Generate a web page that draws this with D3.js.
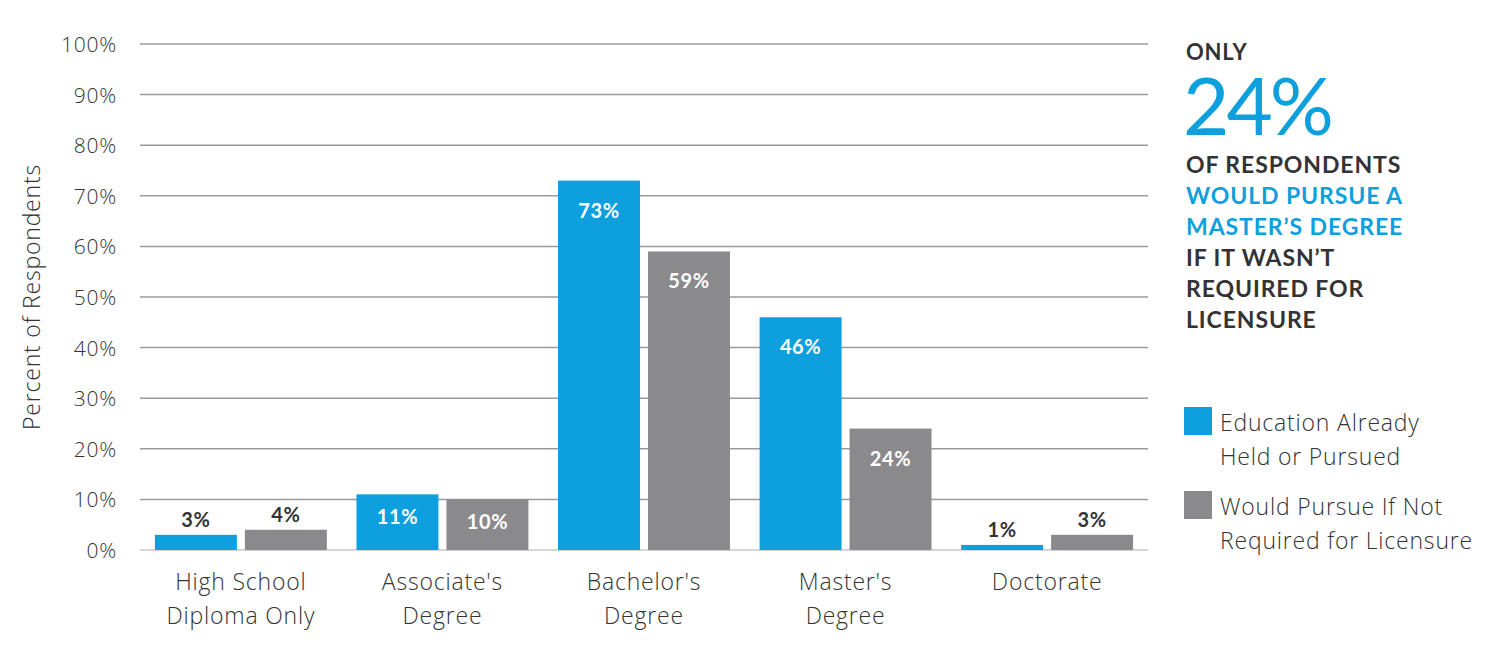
<!DOCTYPE html>
<html lang="en">
<head>
<meta charset="UTF-8">
<title>Education Chart</title>
<style>
    body { margin: 0; padding: 0; background: #fff; font-family: Lato, "Open Sans", sans-serif; }
    svg { display: block; }
    .light { font-family: "Open Sans", Lato, sans-serif; font-weight: 300; }
</style>
<script src="https://d3js.org/d3.v7.min.js"></script>
</head>
<body>
<svg id="chart" width="1500" height="646"></svg>
<script>
    // data
    const categories = [
        ['High School', 'Diploma Only'],
        ["Associate's", 'Degree'],
        ["Bachelor's", 'Degree'],
        ["Master's", 'Degree'],
        ['Doctorate']
    ];
    const seriesNames = ['Education Already Held or Pursued', 'Would Pursue If Not Required for Licensure'];
    const heldValues = [3, 11, 73, 46, 1];
    const wouldValues = [4, 10, 59, 24, 3];
    const yTicks = [0, 10, 20, 30, 40, 50, 60, 70, 80, 90, 100];
    const legendLines = [['Education Already', 'Held or Pursued'], ['Would Pursue If Not', 'Required for Licensure']];
    const calloutLines = [
        { text: 'OF RESPONDENTS', blue: false },
        { text: 'WOULD PURSUE A', blue: true },
        { text: 'MASTER\u2019S DEGREE', blue: true },
        { text: 'IF IT WASN\u2019T', blue: false },
        { text: 'REQUIRED FOR', blue: false },
        { text: 'LICENSURE', blue: false }
    ];

    const blue = '#0d9fde';
    const gray = '#8a8a8d';
    const dark = '#333335';
    const colors = [blue, gray];

    const svg = d3.select('#chart');
    const plotLeft = 140, plotRight = 1148, plotTop = 44, plotBottom = 550;

    const catKeys = categories.map((c, i) => i);
    const x0 = d3.scaleBand().domain(catKeys).range([plotLeft, plotRight]).paddingInner(0.147).paddingOuter(0.074);
    const x1 = d3.scaleBand().domain([0, 1]).range([0, x0.bandwidth()]).paddingInner(0.089);
    const y = d3.scaleLinear().domain([0, 100]).range([plotBottom, plotTop]);

    // gridlines
    svg.append('g').selectAll('line').data(yTicks).join('line')
        .attr('x1', plotLeft).attr('x2', plotRight)
        .attr('y1', d => y(d)).attr('y2', d => y(d))
        .attr('stroke', d => d === 0 ? '#c8c8c8' : '#9a9a9a')
        .attr('stroke-width', 1.5);

    // y tick labels
    svg.append('g').selectAll('text').data(yTicks).join('text')
        .attr('class', 'light')
        .attr('x', 117).attr('y', d => y(d) + 8)
        .attr('text-anchor', 'end')
        .attr('font-size', 21).attr('letter-spacing', 0.8).attr('fill', dark)
        .text(d => d + '%');

    // y axis title
    svg.append('text')
        .attr('class', 'light')
        .attr('transform', 'translate(40,297) rotate(-90)')
        .attr('text-anchor', 'middle')
        .attr('font-size', 23).attr('letter-spacing', 0.8).attr('fill', dark)
        .text('Percent of Respondents');

    // bars
    const rows = catKeys.map(i => [heldValues[i], wouldValues[i]]);
    const groups = svg.append('g').selectAll('g').data(rows).join('g')
        .attr('transform', (d, i) => `translate(${x0(i)},0)`);

    groups.selectAll('rect').data(d => d).join('rect')
        .attr('x', (d, j) => x1(j))
        .attr('width', x1.bandwidth())
        .attr('y', d => y(d))
        .attr('height', d => y(0) - y(d))
        .attr('fill', (d, j) => colors[j]);

    groups.selectAll('text').data(d => d).join('text')
        .attr('x', (d, j) => x1(j) + x1.bandwidth() / 2)
        .attr('y', d => d >= 15 ? y(d) + 37 : y(d) - 8)
        .attr('text-anchor', 'middle')
        .attr('font-size', 20).attr('font-weight', 700)
        .attr('letter-spacing', 0.6)
        .attr('fill', d => d >= 15 ? '#fff' : dark)
        .text(d => d + '%');

    // Associate's labels sit inside their bars
    groups.filter((d, i) => i === 1).selectAll('text')
        .attr('y', d => y(d) + 30)
        .attr('fill', '#fff');

    // category labels
    const catLabels = svg.append('g').selectAll('text').data(categories).join('text')
        .attr('class', 'light')
        .attr('x', (d, i) => x0(i) + x0.bandwidth() / 2)
        .attr('y', 590)
        .attr('text-anchor', 'middle')
        .attr('font-size', 23).attr('letter-spacing', 0.8).attr('fill', dark);
    catLabels.selectAll('tspan').data(d => d).join('tspan')
        .attr('x', function() { return d3.select(this.parentNode).attr('x'); })
        .attr('dy', (d, k) => k === 0 ? 0 : 34)
        .text(d => d);

    // callout
    const cx = 1186;
    svg.append('text').attr('x', cx).attr('y', 60)
        .attr('font-size', 22).attr('font-weight', 700).attr('fill', dark)
        .attr('letter-spacing', 0.8)
        .text('ONLY');
    svg.append('text').attr('x', cx - 3).attr('y', 135)
        .attr('font-size', 80).attr('font-weight', 400).attr('fill', blue)
        .attr('letter-spacing', -3)
        .text(wouldValues[3] + '%');
    svg.append('g').selectAll('text').data(calloutLines).join('text')
        .attr('x', cx).attr('y', (d, i) => 173 + i * 31)
        .attr('font-size', 23).attr('font-weight', 700)
        .attr('letter-spacing', 0.9)
        .attr('fill', d => d.blue ? blue : dark)
        .text(d => d.text);

    // legend
    const legend = svg.append('g').selectAll('g').data(seriesNames).join('g')
        .attr('transform', (d, i) => `translate(1184,${407 + i * 84})`);
    legend.append('rect').attr('width', 28).attr('height', 28).attr('fill', (d, i) => colors[i]);
    const legText = legend.append('text').attr('class', 'light').attr('x', 36).attr('y', 24)
        .attr('font-size', 23).attr('letter-spacing', 0.8).attr('fill', dark);
    legText.selectAll('tspan').data((d, i) => legendLines[i]).join('tspan')
        .attr('x', 36).attr('dy', (d, k) => k === 0 ? 0 : 34)
        .text(d => d);
</script>
</body>
</html>
